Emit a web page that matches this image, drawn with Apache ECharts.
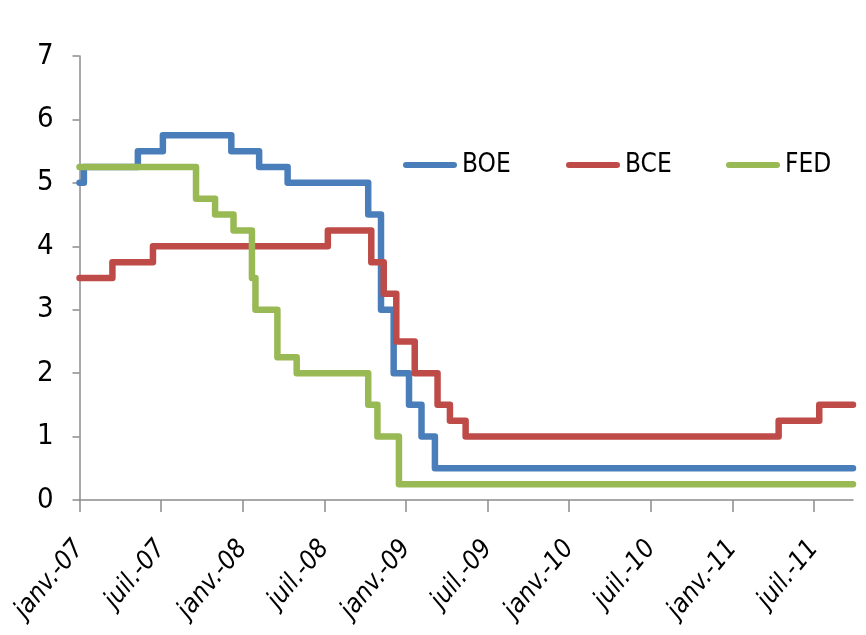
<!DOCTYPE html>
<html>
<head>
<meta charset="utf-8">
<script src="https://cdn.jsdelivr.net/npm/echarts@6/dist/echarts.min.js"></script>
<style>
  html, body { margin: 0; padding: 0; background: #ffffff; }
  #chart { width: 866px; height: 635px; }
</style>
</head>
<body>
<div id="chart"></div>
<script>
// ---- data (rate changes: date the new rate takes effect, rate in %) ----
const seriesNames = ['BOE', 'BCE', 'FED'];
const boeDates  = ['2007-01-01','2007-01-11','2007-05-10','2007-07-05','2007-12-06','2008-02-07','2008-04-10','2008-10-08','2008-11-06','2008-12-04','2009-01-08','2009-02-05','2009-03-05','2011-09-27'];
const boeRates  = [5.0, 5.25, 5.5, 5.75, 5.5, 5.25, 5.0, 4.5, 3.0, 2.0, 1.5, 1.0, 0.5, 0.5];
const bceDates  = ['2007-01-01','2007-03-14','2007-06-13','2008-07-09','2008-10-15','2008-11-12','2008-12-10','2009-01-21','2009-03-11','2009-04-08','2009-05-13','2011-04-13','2011-07-13','2011-09-27'];
const bceRates  = [3.5, 3.75, 4.0, 4.25, 3.75, 3.25, 2.5, 2.0, 1.5, 1.25, 1.0, 1.25, 1.5, 1.5];
const fedDates  = ['2007-01-01','2007-09-18','2007-10-31','2007-12-11','2008-01-22','2008-01-30','2008-03-18','2008-04-30','2008-10-08','2008-10-29','2008-12-16','2011-09-27'];
const fedRates  = [5.25, 4.75, 4.5, 4.25, 3.5, 3.0, 2.25, 2.0, 1.5, 1.0, 0.25, 0.25];
const tickLabels = ['janv.-07','juil.-07','janv.-08','juil.-08','janv.-09','juil.-09','janv.-10','juil.-10','janv.-11','juil.-11'];
const endDate = '2011-09-27';

// months elapsed since 1 Jan 2007 (fractional)
function toM(d) {
  const p = d.split('-').map(Number);
  const dim = new Date(p[0], p[1], 0).getDate();
  return (p[0] - 2007) * 12 + (p[1] - 1) + (p[2] - 1) / dim;
}
function pairs(dates, vals) { return dates.map((d, i) => [toM(d), vals[i]]); }

const FONT = "'DejaVu Sans Condensed','Liberation Sans Narrow',sans-serif";
const colors = ['#4A7EBB', '#BE4B48', '#98B954'];
const tickVals = tickLabels.map((_, i) => i * 6);
const legendLeft = [403, 566, 726];

const chart = echarts.init(document.getElementById('chart'), null, { renderer: 'canvas' });
const mk = (name, data, color) => ({
  name, type: 'line', step: 'end', data, color,
  symbol: 'none', showSymbol: false,
  lineStyle: { width: 6.5, color, cap: 'round', join: 'round' },
  animation: false
});
const mkLegend = (name, i) => ({
  left: legendLeft[i], top: 152, padding: 0,
  icon: 'path://M3,0 L51,0 A3,3 0 0 1 51,6 L3,6 A3,3 0 0 1 3,0 Z',
  itemWidth: 54, itemHeight: 6,
  textStyle: { fontFamily: FONT, fontSize: 26, color: '#000' },
  data: [name]
});

chart.setOption({
  backgroundColor: '#ffffff',
  animation: false,
  grid: { left: 79.5, right: 13, top: 56, bottom: 135, containLabel: false },
  legend: seriesNames.map(mkLegend),
  xAxis: {
    type: 'value', min: 0, max: toM(endDate),
    axisLine: { lineStyle: { color: '#8C8C8C', width: 1.5 } },
    axisTick: { customValues: tickVals, length: 12, lineStyle: { color: '#8C8C8C', width: 1.5 } },
    axisLabel: {
      customValues: tickVals,
      formatter: v => tickLabels[Math.round(v / 6)] || '',
      rotate: 50, margin: 44,
      fontFamily: FONT, fontStyle: 'italic', fontSize: 26, color: '#000'
    },
    splitLine: { show: false }
  },
  yAxis: {
    type: 'value', min: 0, max: 7, interval: 1,
    axisLine: { show: true, lineStyle: { color: '#8C8C8C', width: 1.5 } },
    axisTick: { show: true, length: 7, lineStyle: { color: '#8C8C8C', width: 1.5 } },
    axisLabel: { margin: 26, fontFamily: FONT, fontSize: 29, color: '#000' },
    splitLine: { show: false }
  },
  series: [
    mk('BOE', pairs(boeDates, boeRates), colors[0]),
    mk('BCE', pairs(bceDates, bceRates), colors[1]),
    mk('FED', pairs(fedDates, fedRates), colors[2])
  ]
});
</script>
</body>
</html>
